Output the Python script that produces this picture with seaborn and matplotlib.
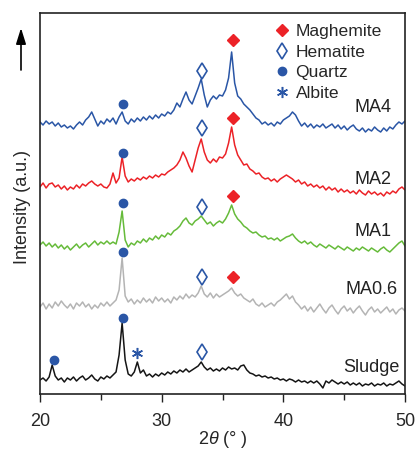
import numpy as np
import pandas as pd
import matplotlib
matplotlib.use("Agg")
import matplotlib.pyplot as plt
import seaborn as sns

# ---------------- data ----------------
two_theta = np.linspace(20, 50, 121)   # 0.25 degree sampling grid

sludge = [14, 16, 13, 17, 29, 18, 14, 16, 12, 16, 14, 17, 13, 16, 18, 14, 16, 19, 15, 13,
          17, 15, 18, 16, 19, 22, 39, 71, 34, 20, 18, 22, 32, 21, 24, 18, 20, 17, 20, 18,
          21, 19, 22, 20, 23, 21, 24, 22, 25, 22, 24, 26, 28, 32, 27, 24, 26, 23, 25, 23,
          26, 24, 27, 25, 26, 24, 28, 29, 24, 21, 20, 18, 19, 17, 18, 16, 17, 15, 16, 14,
          15, 13, 15, 14, 12, 14, 12, 13, 11, 13, 11, 13, 10, 6, 13, 11, 14, 12, 10, 12,
          10, 12, 9, 11, 9, 11, 8, 10, 9, 11, 8, 10, 9, 11, 8, 10, 9, 11, 13, 10,
          8]
ma06 = [87, 91, 85, 90, 86, 92, 88, 93, 89, 86, 90, 85, 91, 88, 92, 87, 90, 85, 89, 86,
        91, 88, 92, 88, 91, 94, 104, 136, 98, 92, 95, 90, 94, 91, 96, 92, 95, 91, 97, 93,
        96, 92, 95, 91, 97, 94, 98, 95, 100, 96, 99, 97, 101, 108, 100, 97, 101, 96, 100, 97,
        99, 101, 103, 106, 101, 98, 100, 96, 94, 92, 95, 90, 88, 91, 87, 89, 91, 88, 92, 94,
        97, 100, 95, 98, 92, 89, 85, 88, 83, 87, 82, 86, 90, 85, 81, 86, 89, 84, 80, 85,
        88, 83, 86, 81, 85, 88, 83, 79, 84, 87, 82, 85, 81, 84, 87, 82, 85, 80, 84, 86,
        83]
ma1 = [149, 152, 148, 151, 147, 150, 146, 149, 145, 148, 144, 147, 150, 146, 149, 151, 147, 150, 153, 149,
       152, 150, 153, 150, 152, 150, 162, 183, 154, 147, 151, 149, 153, 151, 155, 152, 156, 154, 158, 155,
       159, 157, 161, 159, 163, 165, 168, 173, 176, 171, 169, 173, 175, 178, 174, 170, 172, 168, 171, 173,
       171, 175, 181, 189, 180, 175, 172, 168, 166, 163, 161, 162, 159, 157, 158, 155, 156, 154, 156, 153,
       155, 157, 158, 160, 156, 153, 151, 153, 150, 152, 149, 147, 150, 148, 146, 149, 147, 145, 148, 146,
       144, 147, 145, 143, 146, 144, 147, 145, 143, 146, 144, 142, 145, 147, 144, 142, 145, 148, 151, 153,
       148]
ma2 = [207, 211, 206, 210, 211, 207, 209, 205, 208, 204, 207, 205, 209, 206, 210, 208, 211, 213, 210, 208,
       210, 207, 206, 210, 221, 211, 216, 237, 218, 212, 215, 213, 216, 214, 217, 215, 218, 216, 219, 217,
       220, 219, 222, 224, 226, 229, 234, 242, 236, 228, 222, 234, 246, 255, 242, 234, 231, 235, 232, 237,
       236, 240, 251, 267, 249, 239, 234, 229, 230, 225, 223, 220, 221, 217, 215, 216, 213, 215, 212, 215,
       217, 219, 217, 215, 212, 214, 210, 212, 208, 210, 207, 209, 206, 208, 204, 207, 204, 206, 202, 205,
       202, 204, 201, 203, 200, 204, 201, 199, 203, 200, 202, 199, 201, 198, 202, 200, 203, 201, 205, 207,
       204]
ma4 = [272, 269, 273, 270, 272, 268, 271, 267, 269, 266, 268, 265, 269, 272, 269, 274, 277, 282, 275, 268,
       273, 270, 275, 272, 276, 270, 277, 282, 273, 270, 275, 272, 276, 273, 277, 274, 278, 275, 279, 276,
       280, 278, 282, 280, 284, 291, 287, 295, 302, 294, 290, 298, 306, 315, 299, 287, 294, 298, 295, 299,
       298, 304, 316, 342, 311, 298, 295, 290, 287, 284, 280, 276, 274, 270, 272, 269, 271, 268, 272, 270,
       274, 276, 278, 282, 279, 273, 268, 271, 267, 270, 266, 269, 267, 270, 266, 268, 270, 266, 269, 265,
       268, 264, 267, 269, 265, 263, 266, 262, 265, 263, 267, 264, 262, 266, 263, 267, 265, 269, 272, 270,
       273]

sample_names = ["Sludge", "MA0.6", "MA1", "MA2", "MA4"]
sample_values = [sludge, ma06, ma1, ma2, ma4]
label_x = [49.58, 49.42, 48.93, 48.93, 48.93]
label_y = [26, 104, 162, 214, 286]

# phase markers
maghemite_x = [35.9, 35.9, 35.9, 35.9]
maghemite_y = [354, 276, 198, 117]
hematite_x = [33.3, 33.3, 33.3, 33.3, 33.3]
hematite_y = [323, 266, 187, 117, 42]
quartz_x = [26.85, 26.85, 26.85, 26.85, 26.85, 21.15]
quartz_y = [290, 241, 191, 142, 76, 34]
albite_x = [28.0]
albite_y = [41]

# ---------------- style ----------------
colors = {"Sludge": "#151515", "MA0.6": "#b4b4b4", "MA1": "#66bb3a",
          "MA2": "#ec2227", "MA4": "#2a56a6"}
blue = "#2a56a6"
red = "#ec2227"

sns.set_style("ticks")
plt.rcParams["font.family"] = ["Liberation Sans", "DejaVu Sans"]
plt.rcParams["mathtext.fontset"] = "custom"
plt.rcParams["mathtext.it"] = "Liberation Sans:italic"
plt.rcParams["mathtext.rm"] = "Liberation Sans"

rows = []
for name, vals in zip(sample_names, sample_values):
    for t, v in zip(two_theta, vals):
        rows.append((name, t, v))
df = pd.DataFrame(rows, columns=["sample", "two_theta", "intensity"])

fig = plt.figure(figsize=(4.15, 4.51), dpi=100)
ax = fig.add_axes([40 / 415, 1 - 394 / 451, 365 / 415, 381.3 / 451])

sns.lineplot(data=df, x="two_theta", y="intensity", hue="sample",
             palette=colors, estimator=None, sort=False, legend=False,
             linewidth=1.1, ax=ax)

ax.plot(maghemite_x, maghemite_y, linestyle="none", marker="D", ms=6.2,
        color=red, mec=red, label="Maghemite")
ax.plot(hematite_x, hematite_y, linestyle="none", marker="d", ms=8,
        mfc="none", mec=blue, mew=1.2, label="Hematite")
ax.plot(quartz_x, quartz_y, linestyle="none", marker="o", ms=6,
        color=blue, mec=blue, label="Quartz")
ax.plot(albite_x, albite_y, linestyle="none", marker=(6, 2, 0), ms=8,
        color=blue, mec=blue, mew=1.1, label="Albite")

for name, lx, ly in zip(sample_names, label_x, label_y):
    ax.text(lx, ly, name, ha="right", va="center", fontsize=13, color="#222222")

leg = ax.legend(loc="upper left", bbox_to_anchor=(0.64, 0.970), frameon=False,
                fontsize=12.6, borderpad=0, handlelength=1.0, handletextpad=0.25,
                labelspacing=0.3, borderaxespad=0)

ax.set_xlim(20, 50)
ax.set_ylim(0, 381.3)
ax.set_xticks([20, 30, 40, 50])
ax.set_xticks([25, 35, 45], minor=True)
ax.set_yticks([])
ax.tick_params(axis="x", which="major", length=6, width=1.0, direction="out",
               labelsize=13, pad=8, color="#222222")
ax.tick_params(axis="x", which="minor", length=4, width=1.0, direction="out",
               color="#222222")
for sp in ax.spines.values():
    sp.set_linewidth(1.2)
    sp.set_color("#222222")

ax.set_xlabel("2$\\theta$ (° )", fontsize=13, labelpad=-1)
ax.set_ylabel("Intensity (a.u.)", fontsize=13)
ax.yaxis.set_label_coords(-0.025, 0.49)

ax.annotate("", xy=(21, 423), xytext=(21, 381), xycoords="figure pixels",
            textcoords="figure pixels", annotation_clip=False,
            arrowprops=dict(arrowstyle="-|>,head_length=0.8,head_width=0.25",
                            color="black", lw=1.2, mutation_scale=12,
                            shrinkA=0, shrinkB=0))

fig.savefig("out.png", dpi=100)
